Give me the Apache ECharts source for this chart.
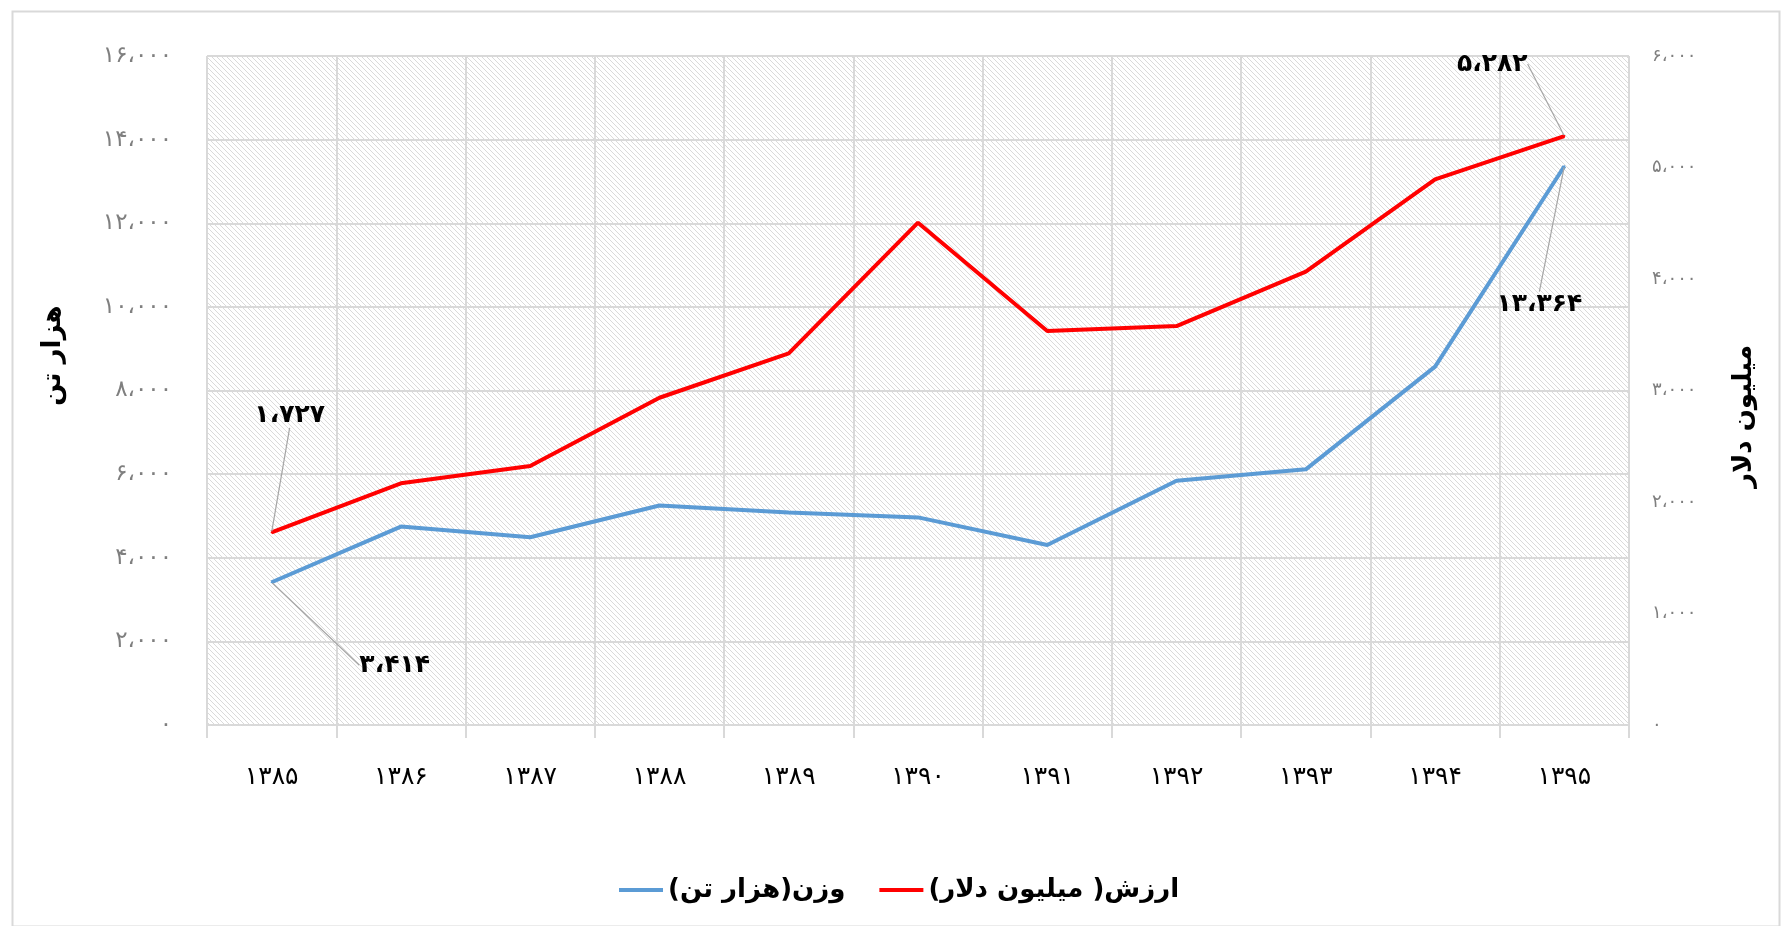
<!DOCTYPE html>
<html>
<head>
<meta charset="utf-8">
<script src="https://cdn.jsdelivr.net/npm/echarts@6/dist/echarts.min.js"></script>
<style>
html,body{margin:0;padding:0;background:#fff;}
#c{width:1787px;height:926px;}
</style>
</head>
<body>
<div id="c" dir="rtl"></div>
<script>
// ---- data ----
const years = ['۱۳۸۵','۱۳۸۶','۱۳۸۷','۱۳۸۸','۱۳۸۹','۱۳۹۰','۱۳۹۱','۱۳۹۲','۱۳۹۳','۱۳۹۴','۱۳۹۵'];
const weightThousandTon = [3414, 4745, 4490, 5250, 5080, 4965, 4305, 5840, 6115, 8570, 13364];
const valueMillionUSD = [1727, 2168, 2323, 2935, 3333, 4505, 3534, 3578, 4066, 4894, 5282];
const seriesNames = ['وزن(هزار تن)', 'ارزش( میلیون دلار)'];
const leftAxisName = 'هزار تن';
const rightAxisName = 'میلیون دلار';

const FA = '۰۱۲۳۴۵۶۷۸۹';
function toFa(n){
  return Math.round(n).toString().replace(/\B(?=(\d{3})+(?!\d))/g, '،').replace(/\d/g, d => FA[d]);
}

// hatch pattern
const tile = document.createElement('canvas');
tile.width = 5; tile.height = 5;
const tctx = tile.getContext('2d');
tctx.fillStyle = '#ffffff'; tctx.fillRect(0,0,5,5);
tctx.fillStyle = '#dadada';
for (let i = 0; i < 5; i++) tctx.fillRect(i, i, 1, 1);

const FONT = '"DejaVu Sans", "Noto Sans", sans-serif';
const lastIdx = years.length - 1;

function withEndLabels(arr){
  return arr.map((v,i) => (i === 0 || i === lastIdx) ? {value: v, label: {show: true}} : v);
}

// label offsets (style) per series: [first, last]
const labelOffsets = [
  [{dx: 123, dy: 83}, {dx: -25, dy: 138}],
  [{dx: 18, dy: -117}, {dx: -72, dy: -72}]
];

const chart = echarts.init(document.getElementById('c'), null, {renderer: 'canvas'});
const gridColor = '#d9d9d9';

chart.setOption({
  animation: false,
  backgroundColor: '#ffffff',
  textStyle: {fontFamily: FONT},
  graphic: [{
    type: 'rect', left: 10, top: 9,
    shape: {width: 1767, height: 915},
    style: {fill: 'none', stroke: '#d9d9d9', lineWidth: 2},
    silent: true
  }],
  grid: {
    left: 207, right: 158, top: 56, bottom: 201,
    show: true,
    backgroundColor: {image: tile, repeat: 'repeat'},
    borderWidth: 0
  },
  legend: {
    left: 614, top: 872,
    icon: 'rect', itemWidth: 44, itemHeight: 4, itemGap: 34,
    textStyle: {fontFamily: FONT, fontSize: 26, fontWeight: 'bold', color: '#000'},
    data: seriesNames
  },
  xAxis: {
    type: 'category',
    data: years,
    boundaryGap: true,
    axisLine: {show: true, lineStyle: {color: gridColor, width: 2}},
    axisTick: {show: true, length: 13, lineStyle: {color: gridColor, width: 2}},
    splitLine: {show: true, lineStyle: {color: gridColor, width: 2}},
    axisLabel: {margin: 40, fontFamily: FONT, fontSize: 25, color: '#000'}
  },
  yAxis: [{
    type: 'value', min: 0, max: 16000, interval: 2000,
    name: leftAxisName, nameLocation: 'middle', nameGap: 141, nameRotate: 90,
    nameTextStyle: {fontFamily: FONT, fontSize: 26, fontWeight: 'bold', color: '#000', padding: [0, 0, 0, 70]},
    axisLine: {show: false}, axisTick: {show: false},
    splitLine: {show: true, lineStyle: {color: gridColor, width: 2}},
    axisLabel: {margin: 35, fontFamily: FONT, fontSize: 23, color: '#7f7f7f', formatter: v => toFa(v)}
  }, {
    type: 'value', min: 0, max: 6000, interval: 1000,
    name: rightAxisName, nameLocation: 'middle', nameGap: 102, nameRotate: 90,
    nameTextStyle: {fontFamily: FONT, fontSize: 26, fontWeight: 'bold', color: '#000', padding: [0, 52, 0, 0]},
    axisLine: {show: false}, axisTick: {show: false},
    splitLine: {show: false},
    axisLabel: {margin: 23, fontFamily: FONT, fontSize: 18, color: '#7f7f7f', formatter: v => toFa(v)}
  }],
  series: [{
    name: seriesNames[0],
    type: 'line',
    yAxisIndex: 0,
    data: withEndLabels(weightThousandTon),
    symbol: 'circle', symbolSize: 2, showSymbol: true,
    itemStyle: {color: '#5b9bd5'},
    lineStyle: {color: '#5b9bd5', width: 4},
    label: {show: false, position: 'inside', fontFamily: FONT, fontSize: 25, fontWeight: 'bold', color: '#000',
            formatter: p => toFa(p.value)},
    labelLine: {show: true, lineStyle: {color: '#a6a6a6', width: 1.2}},
    z: 3
  }, {
    name: seriesNames[1],
    type: 'line',
    yAxisIndex: 1,
    data: withEndLabels(valueMillionUSD),
    symbol: 'circle', symbolSize: 2, showSymbol: true,
    itemStyle: {color: '#ff0000'},
    lineStyle: {color: '#ff0000', width: 4},
    label: {show: false, position: 'inside', fontFamily: FONT, fontSize: 25, fontWeight: 'bold', color: '#000',
            formatter: p => toFa(p.value)},
    labelLine: {show: true, lineStyle: {color: '#a6a6a6', width: 1.2}},
    z: 4
  }],
  labelLayout: function (params) {
    const offs = labelOffsets[params.seriesIndex];
    if (!offs) return {};
    if (params.dataIndex === 0) return offs[0];
    if (params.dataIndex === lastIdx) return offs[1];
    return {};
  }
});
</script>
</body>
</html>
